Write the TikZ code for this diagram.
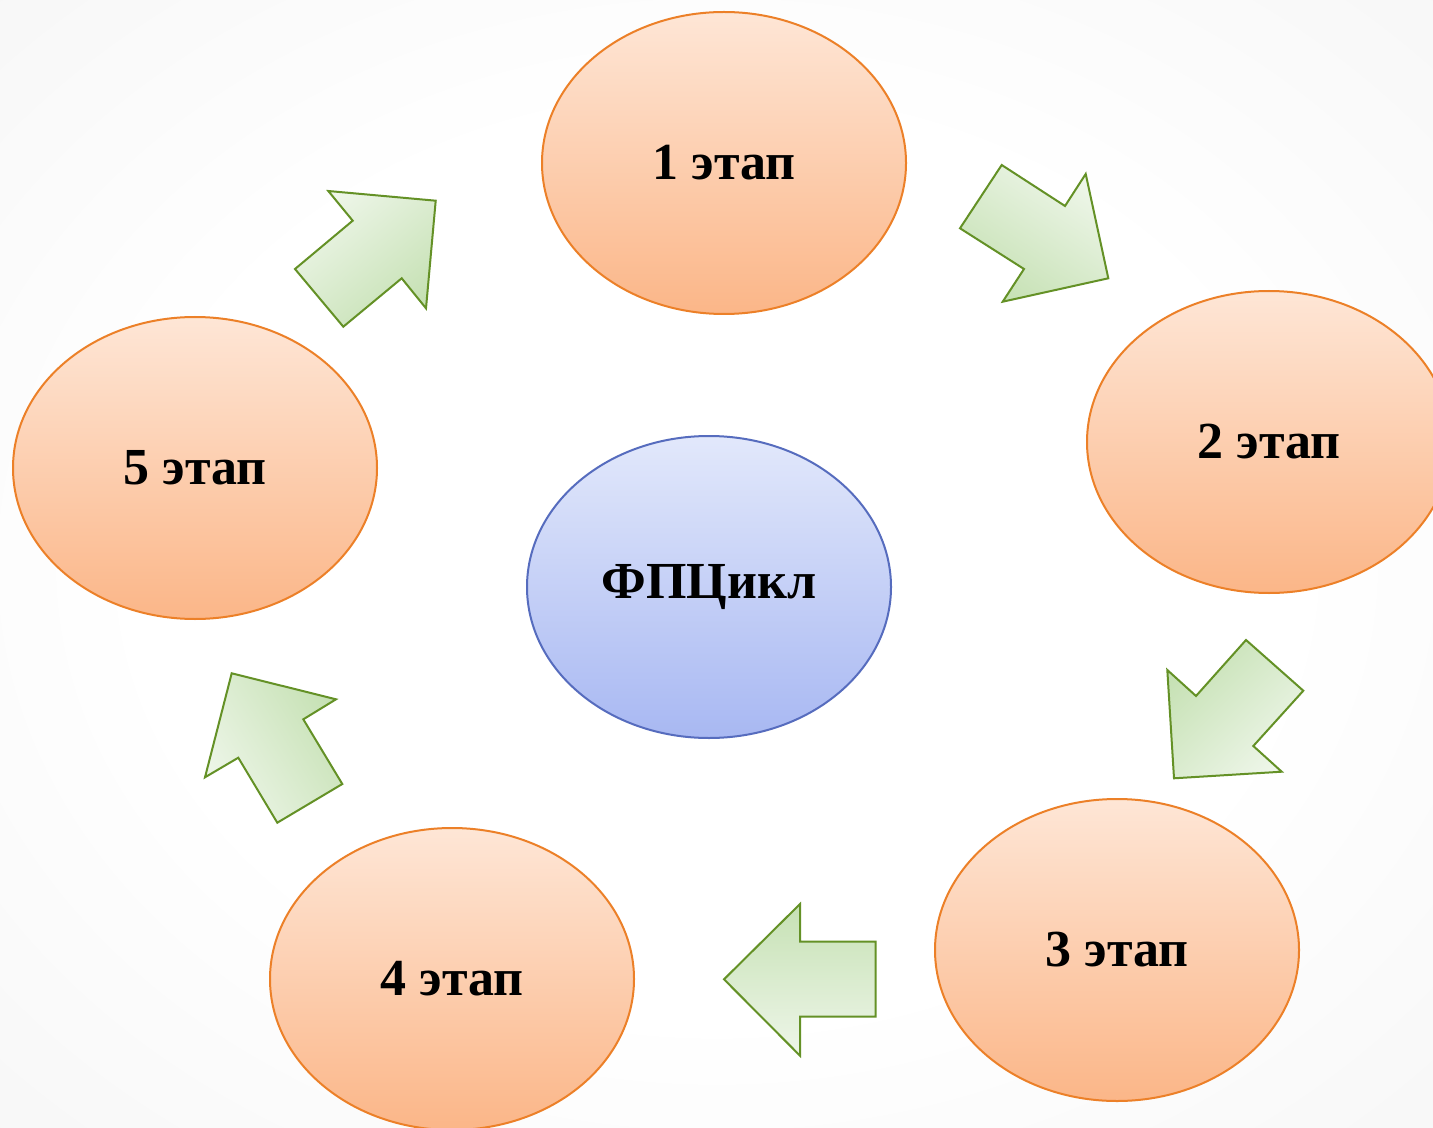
\documentclass[tikz,border=0pt]{standalone}
\usepackage{fontspec}
\setmainfont{Liberation Serif}
\usetikzlibrary{shapes.geometric}
\definecolor{bgedge}{RGB}{230,230,230}
\definecolor{ortop}{RGB}{254,230,214}
\definecolor{orbot}{RGB}{251,182,136}
\definecolor{orborder}{RGB}{236,128,40}
\definecolor{bltop}{RGB}{226,232,251}
\definecolor{blbot}{RGB}{168,184,242}
\definecolor{blborder}{RGB}{86,108,190}
\definecolor{arlight}{RGB}{238,246,233}
\definecolor{ardark}{RGB}{198,225,180}
\definecolor{arborder}{RGB}{100,145,38}
\pgfdeclareradialshading{bgvig}{\pgfpoint{0bp}{0bp}}{color(0bp)=(white); color(20bp)=(white); color(71bp)=(bgedge)}
\begin{document}
\begin{tikzpicture}[x=0.5pt,y=-0.5pt,
  stage/.style={ellipse, draw=orborder, line width=1pt, top color=ortop, bottom color=orbot,
    minimum width=182pt, minimum height=151pt, inner sep=0pt,
    font=\fontsize{26}{30}\selectfont\bfseries},
  hub/.style={stage, draw=blborder, top color=bltop, bottom color=blbot},
  blockarrow/.style={draw=arborder, line width=1pt, line join=miter}]
\clip (0,0) rectangle (1433,1128);
\shade[shading=bgvig] (0,0) rectangle (1433,1128);
% stages
\node[stage] (s1) at (724,163) {1 этап};
\node[stage] (s2) at (1269,442) {2 этап};
\node[stage] (s3) at (1117,950) {3 этап};
\node[stage] (s4) at (452,979) {4 этап};
\node[stage] (s5) at (195,468) {5 этап};
\node[hub] (c) at (709,587) {ФПЦикл};
% block arrows
\path[blockarrow, top color=arlight, bottom color=ardark, shading angle=-33]
  (1001.7,165) -- (1065,206) -- (1085.7,174) -- (1108.3,278.3) -- (1002.7,301.7) -- (1024,269) -- (960,228.3) -- cycle;
\path[blockarrow, top color=arlight, bottom color=ardark, shading angle=-135]
  (1246,640) -- (1303.3,690.7) -- (1253.3,746) -- (1281.7,771.7) -- (1174,778.3) -- (1167.3,670) -- (1196,696) -- cycle;
\path[blockarrow, top color=arlight, bottom color=ardark, shading angle=180]
  (800,904) -- (800,941.7) -- (875.7,941.7) -- (875.7,1016.7) -- (800,1016.7) -- (800,1055.7) -- (724,979.3) -- cycle;
\path[blockarrow, top color=arlight, bottom color=ardark, shading angle=121]
  (231.7,673.3) -- (336,699.3) -- (303.3,719.3) -- (342.3,784) -- (277.3,822.7) -- (238.3,757.7) -- (205,777.3) -- cycle;
\path[blockarrow, top color=arlight, bottom color=ardark, shading angle=40]
  (328.3,191) -- (435.7,200.7) -- (426,308.3) -- (401.7,278.3) -- (343.3,326.7) -- (295,269) -- (352.7,220.7) -- cycle;
\end{tikzpicture}
\end{document}
